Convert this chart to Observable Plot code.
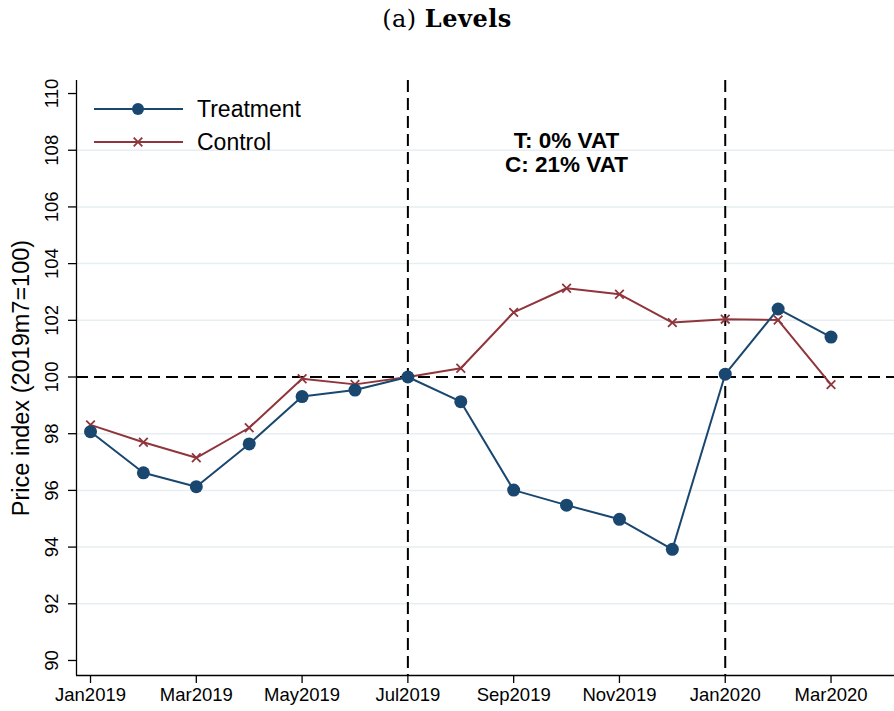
<!DOCTYPE html>
<html><head><meta charset="utf-8">
<script src="https://cdn.jsdelivr.net/npm/d3@7"></script>
<script src="https://cdn.jsdelivr.net/npm/@observablehq/plot@0.6"></script>
<style>
body{margin:0;background:#fff;}
#title{height:39px;padding-top:7px;width:894px;text-align:center;font-family:"DejaVu Serif",serif;font-size:24px;line-height:24px;letter-spacing:0.5px;color:#000;}
#chart svg{display:block;}
</style></head>
<body>
<div id="title">(a) <b>Levels</b></div>
<div id="chart"></div>
<script>
// Months since Jan2019
const months = [0,1,2,3,4,5,6,7,8,9,10,11,12,13,14];
const treatment = [98.07, 96.62, 96.13, 97.64, 99.31, 99.54, 100, 99.13, 96.01, 95.48, 94.98, 93.92, 100.1, 102.4, 101.41];
const control   = [98.31, 97.70, 97.15, 98.21, 99.94, 99.74, 100, 100.31, 102.28, 103.13, 102.92, 101.92, 102.04, 102.01, 99.73];
const seriesNames = ["Treatment", "Control"];
const xTicks = [0,2,4,6,8,10,12,14];
const xTickLabels = ["Jan2019","Mar2019","May2019","Jul2019","Sep2019","Nov2019","Jan2020","Mar2020"];
const yTicks = [90,92,94,96,98,100,102,104,106,108,110];
const yGrid = [92,94,96,98,102,104,106,108];
const policyMonths = [6, 12];
const baseline = [100];
const annotation = ["T: 0% VAT\nC: 21% VAT"];
const annotationPos = {x: 9, y: 107.94};
const yLabel = "Price index (2019m7=100)";

const xDomain = [-0.265, 15.2];
const yDomain = [89.47, 110.46];

const navy = "#1a476f", maroon = "#90353b";

const tData = months.map((m,i)=>({m, v: treatment[i]}));
const cData = months.map((m,i)=>({m, v: control[i]}));

const chart = Plot.plot({
  width: 894, height: 665,
  marginLeft: 76, marginRight: 0, marginTop: 34, marginBottom: 36,
  style: {fontFamily: "'Liberation Sans', Arial, sans-serif", fontSize: "18px", color: "#000", background: "#fff"},
  x: {domain: xDomain, axis: null, label: null},
  y: {domain: yDomain, axis: null, label: null},
  marks: [
    Plot.ruleY(yGrid, {stroke: "#e6eef1", strokeWidth: 1.5}),
    Plot.ruleY([yDomain[0]], {stroke: "#000", strokeWidth: 1.3}),
    Plot.ruleX([xDomain[0]], {y1: yDomain[0], y2: yDomain[1], stroke: "#000", strokeWidth: 1.3}),
    Plot.axisX(xTicks, {tickSize: 8, tickPadding: 4, label: null, tickFormat: d => xTickLabels[xTicks.indexOf(d)], fontSize: 18.5, strokeWidth: 1.3}),
    Plot.axisY(yTicks, {tickSize: 8, label: null, tickRotate: -90, textAnchor: "middle", tickPadding: 11, fontSize: 18.5, strokeWidth: 1.3}),
    Plot.text([yLabel], {frameAnchor: "left", rotate: -90, dx: -55, fontSize: 23.5, textAnchor: "middle"}),
    Plot.ruleY(baseline, {stroke: "#000", strokeWidth: 2, strokeDasharray: "12,6"}),
    Plot.ruleX(policyMonths, {stroke: "#000", strokeWidth: 2, strokeDasharray: "12,6"}),
    Plot.line(cData, {x: "m", y: "v", stroke: maroon, strokeWidth: 2}),
    Plot.dot(cData, {x: "m", y: "v", symbol: "times", r: 4, stroke: maroon, strokeWidth: 1.8}),
    Plot.line(tData, {x: "m", y: "v", stroke: navy, strokeWidth: 2}),
    Plot.dot(tData, {x: "m", y: "v", r: 6.5, fill: navy, stroke: "none"}),
    Plot.text(annotation, {x: () => annotationPos.x, y: () => annotationPos.y, fontWeight: "bold", fontSize: 22.5, lineHeight: 1.07, lineAnchor: "middle", textAnchor: "middle"})
  ]
});

// Legend inside plot (top-left)
const svg = d3.select(chart);
const leg = svg.append("g").attr("font-family", "'Liberation Sans', Arial, sans-serif").attr("font-size", 23).attr("text-anchor", "start");
const rows = [{name: seriesNames[0], color: navy, y: 63, sym: "circle"}, {name: seriesNames[1], color: maroon, y: 96, sym: "times"}];
rows.forEach(r => {
  leg.append("line").attr("x1", 94).attr("x2", 183).attr("y1", r.y).attr("y2", r.y).attr("stroke", r.color).attr("stroke-width", 2);
  if (r.sym === "circle") {
    leg.append("circle").attr("cx", 138).attr("cy", r.y).attr("r", 6).attr("fill", r.color);
  } else {
    leg.append("path").attr("d", d3.symbol(d3.symbolTimes, 50)()).attr("transform", `translate(138,${r.y})`).attr("stroke", r.color).attr("stroke-width", 1.8).attr("fill", "none");
  }
  leg.append("text").attr("x", 197).attr("y", r.y).attr("dy", "0.36em").attr("text-anchor", "start").text(r.name);
});

document.getElementById("chart").appendChild(chart);
</script>
</body></html>
